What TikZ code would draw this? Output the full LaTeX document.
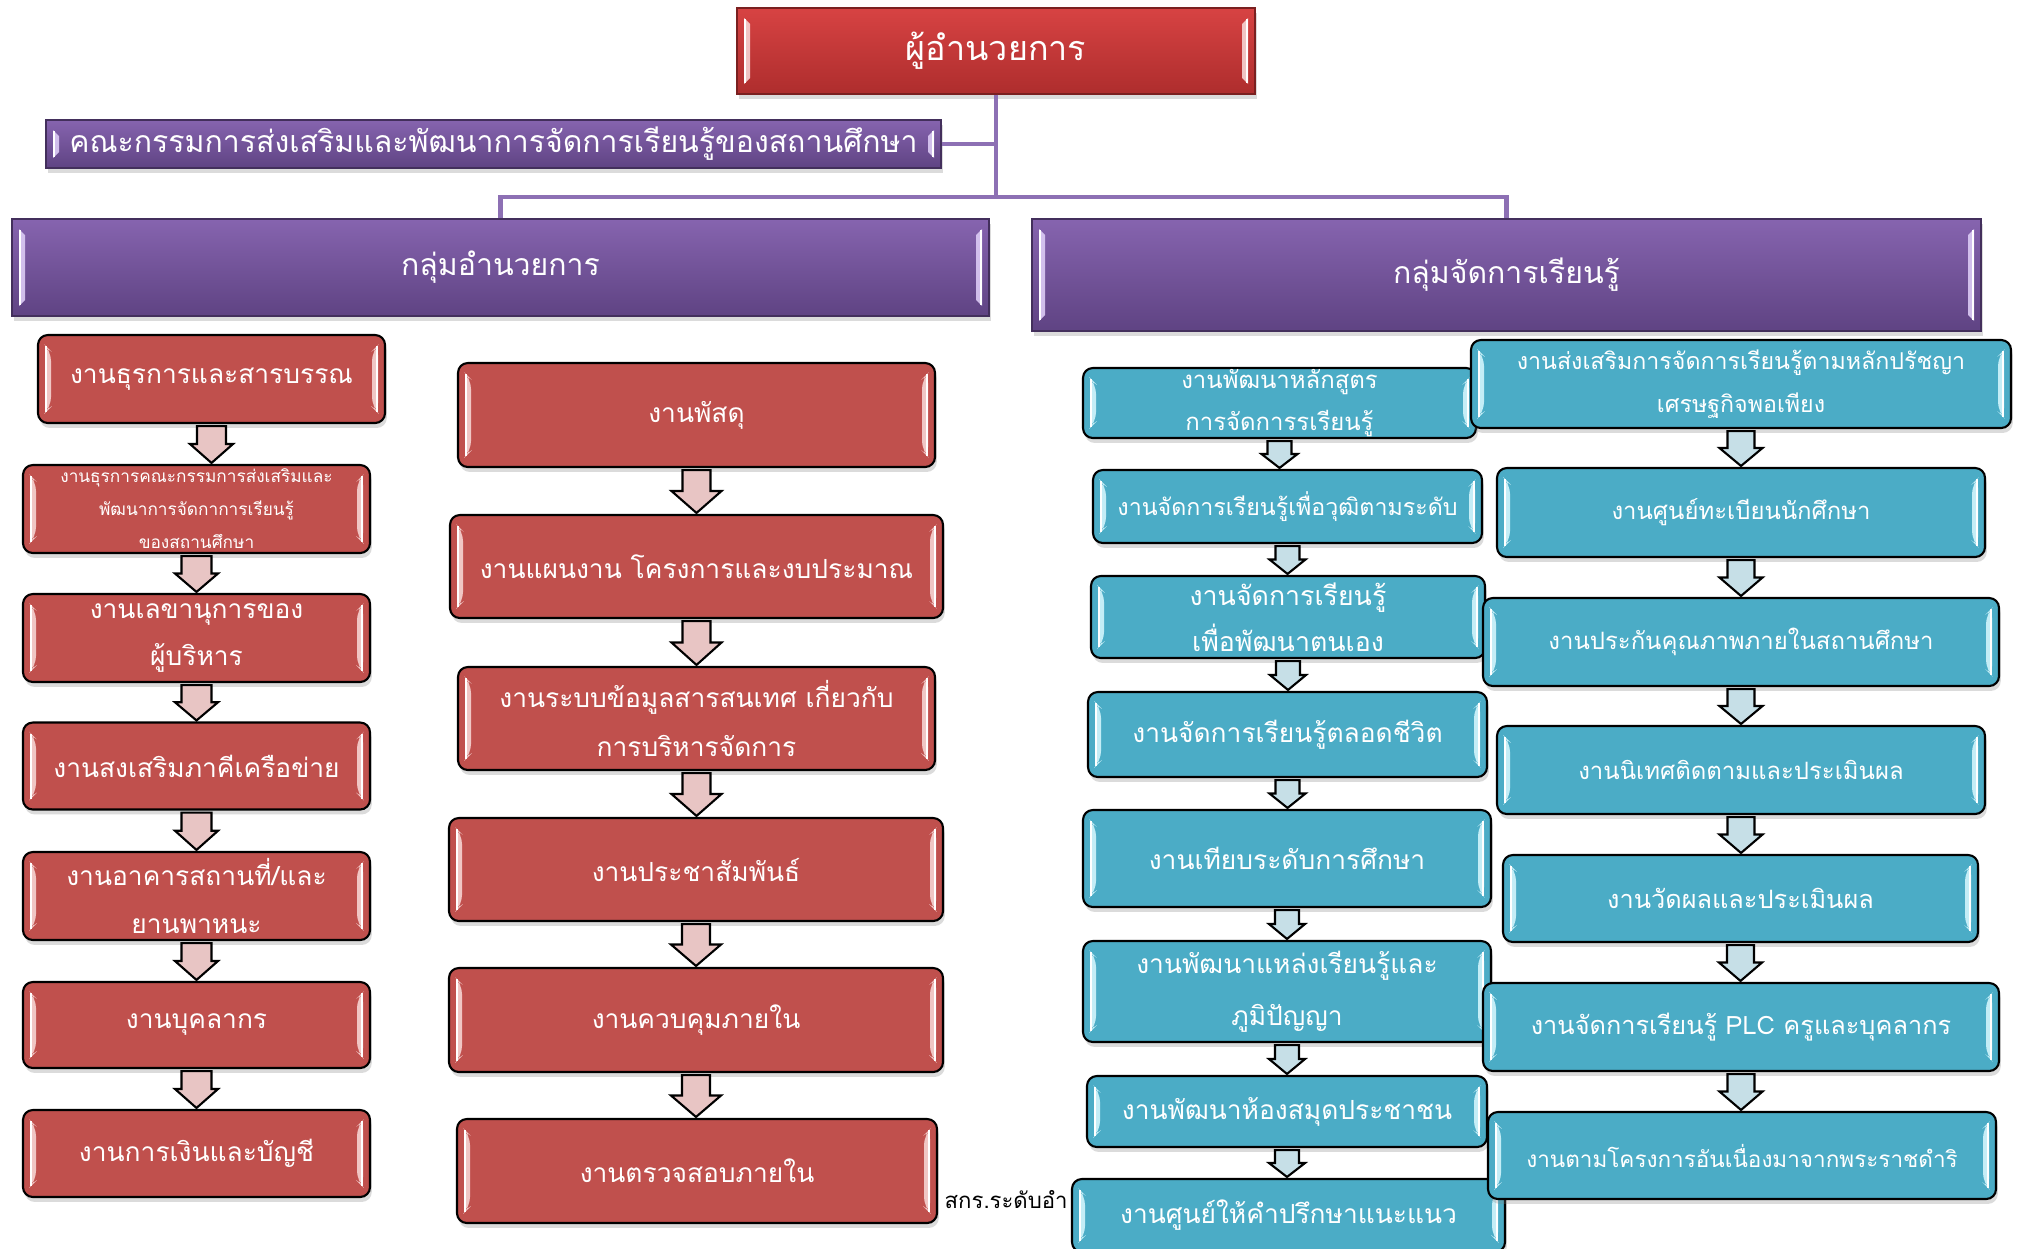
\documentclass[tikz,border=0pt]{standalone}
\usepackage{fontspec}
\setmainfont[Script=Thai]{Loma}
\usetikzlibrary{calc,shadows}
\definecolor{redA}{HTML}{C0504D}
\definecolor{redHi}{HTML}{F6D3D2}
\definecolor{blueA}{HTML}{4BACC6}
\definecolor{blueHi}{HTML}{D2F5FC}
\definecolor{purTop}{HTML}{8664AF}
\definecolor{purBot}{HTML}{5F4383}
\definecolor{purHi}{HTML}{DCCBF5}
\definecolor{dirTop}{HTML}{D74343}
\definecolor{dirBot}{HTML}{AE2D2D}
\definecolor{connC}{HTML}{8D70B4}
\definecolor{arrRed}{HTML}{E8C5C4}
\definecolor{arrBlue}{HTML}{C6DFE7}
\newdimen\pxu \pxu=0.28453pt
\newcommand\fsz[2]{\fontsize{#1pt}{#2pt}\selectfont}
\newcommand\blk[5]{%
  \path[draw=black, line width=0.6pt, fill=#5, line join=miter]
    let \p1=(#1.south), \p2=(#2.north) in
    ({\x1-#3*\pxu},{\y1-2*\pxu}) -- ({\x1+#3*\pxu},{\y1-2*\pxu})
    -- ({\x1+#3*\pxu},{0.5*\y1+0.5*\y2}) -- ({\x1+#4*\pxu},{0.5*\y1+0.5*\y2})
    -- ({\x1},{\y2+1*\pxu}) -- ({\x1-#4*\pxu},{0.5*\y1+0.5*\y2})
    -- ({\x1-#3*\pxu},{0.5*\y1+0.5*\y2}) -- cycle;}
\tikzset{
  sz/.style 2 args={minimum width={#1*0.01cm}, minimum height={#2*0.01cm}},
  bevel/.style={path picture={
    \fill[#1, opacity=0.9] ($(path picture bounding box.north west)+(7,10)$) -- ($(path picture bounding box.south west)+(7,-10)$) -- ($(path picture bounding box.south west)+(13,-16)$) -- ($(path picture bounding box.north west)+(13,16)$) -- cycle;
    \fill[#1, opacity=0.9] ($(path picture bounding box.north east)+(-7,10)$) -- ($(path picture bounding box.south east)+(-7,-10)$) -- ($(path picture bounding box.south east)+(-13,-16)$) -- ($(path picture bounding box.north east)+(-13,16)$) -- cycle;
    \draw[white, line width=0.5pt] ($(path picture bounding box.north west)+(8,11)$) -- ($(path picture bounding box.south west)+(8,-11)$);
    \draw[white, line width=0.5pt] ($(path picture bounding box.north east)+(-8,11)$) -- ($(path picture bounding box.south east)+(-8,-11)$);
  }},
  shad/.style={drop shadow={opacity=0.28, shadow xshift=0.5pt, shadow yshift=-1.4pt}},
  base/.style={draw=black, line width=0.6pt, rounded corners=2.8pt, text=white, align=center, inner sep=0pt, shad},
  redbox/.style={base, fill=redA, bevel=redHi},
  bluebox/.style={base, fill=blueA, bevel=blueHi},
  purbox/.style={draw=purBot!70!black, line width=0.4pt, top color=purTop, bottom color=purBot, text=white, align=center, inner sep=0pt, bevel=purHi, shad},
  dirbox/.style={draw=dirBot!70!black, line width=0.4pt, top color=dirTop, bottom color=dirBot, text=white, align=center, inner sep=0pt, bevel=redHi, shad},
  conn/.style={draw=connC, line width=1.2pt},
}
\begin{document}
\begin{tikzpicture}[x=0.01cm, y=-0.01cm]
\fill[white] (0,0) rectangle (2021,1248);
\useasboundingbox (0,0) rectangle (2021,1248);
\coordinate (bus) at (996,197);

% top level
\node[dirbox, sz={518}{86}, font=\fsz{9.7}{12}] (dir) at (996,51) {ผู้อำนวยการ};
\node[purbox, sz={895}{48}, font=\fsz{8.6}{11}] (com) at (493.5,144) {คณะกรรมการส่งเสริมและพัฒนาการจัดการเรียนรู้ของสถานศึกษา};
\node[purbox, sz={977}{97}, font=\fsz{8.6}{11}] (grpL) at (500.5,267.5) {กลุ่มอำนวยการ};
\node[purbox, sz={949}{112}, font=\fsz{8.6}{11}] (grpR) at (1506.5,275) {กลุ่มจัดการเรียนรู้};

\begin{scope}[on background layer/.style={}]
\end{scope}

% column A
\node[redbox, sz={347}{88}, font=\fsz{7.5}{13.6}] (a1) at (211.5,379) {งานธุรการและสารบรรณ};
\node[redbox, sz={347}{88}, font=\fsz{4.9}{9.4}] (a2) at (196.5,509) {งานธุรการคณะกรรมการส่งเสริมและ\\พัฒนาการจัดกาการเรียนรู้\\ของสถานศึกษา};
\node[redbox, sz={347}{88}, font=\fsz{7.5}{13.6}] (a3) at (196.5,638) {งานเลขานุการของ\\ผู้บริหาร};
\node[redbox, sz={347}{87}, font=\fsz{7.5}{13.6}] (a4) at (196.5,766) {งานสงเสริมภาคีเครือข่าย};
\node[redbox, sz={347}{88}, font=\fsz{7.5}{13.6}] (a5) at (196.5,896) {งานอาคารสถานที่/และ\\ยานพาหนะ};
\node[redbox, sz={347}{86}, font=\fsz{7.5}{13.6}] (a6) at (196.5,1025) {งานบุคลากร};
\node[redbox, sz={347}{87}, font=\fsz{7.5}{13.6}] (a7) at (196.5,1153.5) {งานการเงินและบัญชี};

% column B
\node[redbox, sz={477}{104}, font=\fsz{7.5}{13.6}] (b1) at (696.5,415) {งานพัสดุ};
\node[redbox, sz={493}{103}, font=\fsz{7.5}{13.6}] (b2) at (696.5,566.5) {งานแผนงาน โครงการและงบประมาณ};
\node[redbox, sz={477}{103}, font=\fsz{7.5}{14.2}] (b3) at (696.5,718.5) {งานระบบข้อมูลสารสนเทศ เกี่ยวกับ\\การบริหารจัดการ};
\node[redbox, sz={494}{103}, font=\fsz{7.5}{13.6}] (b4) at (696,869.5) {งานประชาสัมพันธ์};
\node[redbox, sz={494}{104}, font=\fsz{7.5}{13.6}] (b5) at (696,1020) {งานควบคุมภายใน};
\node[redbox, sz={480}{104}, font=\fsz{7.5}{13.6}] (b6) at (697,1171) {งานตรวจสอบภายใน};

\node[anchor=west, inner sep=0pt, text=black, font=\fsz{6.3}{8}] (skr) at (944,1200) {สกร.ระดับอำ};

% column C
\node[bluebox, sz={393}{70}, font=\fsz{6.8}{12}] (c1) at (1279.5,403) {งานพัฒนาหลักสูตร\\การจัดการรเรียนรู้};
\node[bluebox, sz={389}{73}, font=\fsz{6.6}{12}] (c2) at (1287.5,506.5) {งานจัดการเรียนรู้เพื่อวุฒิตามระดับ};
\node[bluebox, sz={394}{82}, font=\fsz{7.6}{13.1}] (c3) at (1288,617) {งานจัดการเรียนรู้\\เพื่อพัฒนาตนเอง};
\node[bluebox, sz={399}{85}, font=\fsz{7.5}{13.6}] (c4) at (1287.5,734.5) {งานจัดการเรียนรู้ตลอดชีวิต};
\node[bluebox, sz={408}{97}, font=\fsz{7.5}{13.6}] (c5) at (1287,858.5) {งานเทียบระดับการศึกษา};
\node[bluebox, sz={408}{101}, font=\fsz{7.5}{14.8}] (c6) at (1287,991.5) {งานพัฒนาแหล่งเรียนรู้และ\\ภูมิปัญญา};
\node[bluebox, sz={400}{71}, font=\fsz{7.5}{13.6}] (c7) at (1287,1111.5) {งานพัฒนาห้องสมุดประชาชน};
\node[bluebox, sz={433}{73}, font=\fsz{7.5}{13.6}] (c8) at (1288.5,1215.5) {งานศูนย์ให้คำปรึกษาแนะแนว};

% column D
\node[bluebox, sz={540}{88}, font=\fsz{6.6}{12.2}] (d1) at (1741,384) {งานส่งเสริมการจัดการเรียนรู้ตามหลักปรัชญา\\เศรษฐกิจพอเพียง};
\node[bluebox, sz={488}{89}, font=\fsz{6.8}{12}] (d2) at (1741,512.5) {งานศูนย์ทะเบียนนักศึกษา};
\node[bluebox, sz={516}{88}, font=\fsz{6.8}{12}] (d3) at (1741,642) {งานประกันคุณภาพภายในสถานศึกษา};
\node[bluebox, sz={488}{88}, font=\fsz{6.8}{12}] (d4) at (1741,770) {งานนิเทศติดตามและประเมินผล};
\node[bluebox, sz={475}{87}, font=\fsz{7.2}{12}] (d5) at (1740.5,898.5) {งานวัดผลและประเมินผล};
\node[bluebox, sz={516}{88}, font=\fsz{7.2}{12}] (d6) at (1741,1027) {งานจัดการเรียนรู้ PLC ครูและบุคลากร};
\node[bluebox, sz={508}{87}, font=\fsz{6.4}{12}] (d7) at (1742,1155.5) {งานตามโครงการอันเนื่องมาจากพระราชดำริ};

% connectors
\draw[conn] (dir.south) -- (dir.south |- bus);
\draw[conn] (grpL.north) |- (dir.south |- bus) -| (grpR.north);
\draw[conn] (com.east) -- (com.east -| dir.south);

% block arrows
\blk{a1}{a2}{14.5}{21.5}{arrRed}
\blk{a2}{a3}{15}{21.5}{arrRed}
\blk{a3}{a4}{15}{21.5}{arrRed}
\blk{a4}{a5}{15}{21.5}{arrRed}
\blk{a5}{a6}{15}{21.5}{arrRed}
\blk{a6}{a7}{15}{21.5}{arrRed}
\blk{b1}{b2}{14}{25}{arrRed}
\blk{b2}{b3}{14}{25}{arrRed}
\blk{b3}{b4}{14}{25}{arrRed}
\blk{b4}{b5}{14}{25}{arrRed}
\blk{b5}{b6}{14}{25}{arrRed}
\blk{c1}{c2}{12}{18}{arrBlue}
\blk{c2}{c3}{12}{18}{arrBlue}
\blk{c3}{c4}{12}{18}{arrBlue}
\blk{c4}{c5}{12}{18}{arrBlue}
\blk{c5}{c6}{12}{18}{arrBlue}
\blk{c6}{c7}{12}{18}{arrBlue}
\blk{c7}{c8}{12}{18}{arrBlue}
\blk{d1}{d2}{13.5}{21.5}{arrBlue}
\blk{d2}{d3}{13.5}{21.5}{arrBlue}
\blk{d3}{d4}{13.5}{21.5}{arrBlue}
\blk{d4}{d5}{13.5}{21.5}{arrBlue}
\blk{d5}{d6}{13.5}{21.5}{arrBlue}
\blk{d6}{d7}{13.5}{21.5}{arrBlue}
\end{tikzpicture}
\end{document}
